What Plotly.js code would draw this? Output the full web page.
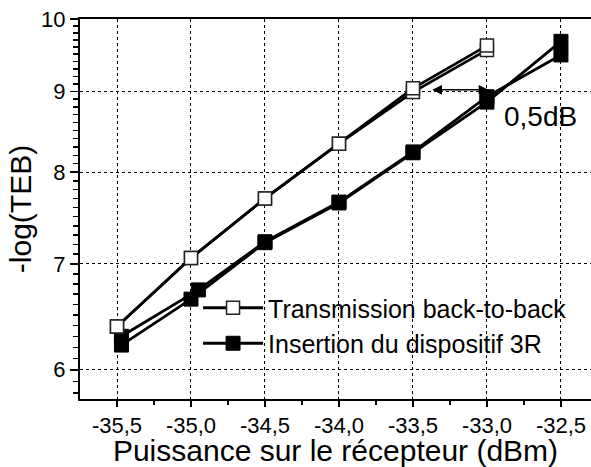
<!DOCTYPE html>
<html>
<head>
<meta charset="utf-8">
<script src="https://cdn.plot.ly/plotly-3.0.1.min.js"></script>
<style>html,body{margin:0;padding:0;background:#fff;}#chart{width:591px;height:467px;}</style>
</head>
<body>
<div id="chart"></div>
<script>
// Transmission back-to-back (two overlapping measurement runs)
const xOpenA = [-35.5, -35.0, -34.5, -34.0, -33.5, -33.0];
const yOpenA = [6.39, 7.06, 7.70, 8.34, 9.04, 9.62];
const xOpenB = [-35.5, -35.0, -34.5, -34.0, -33.5, -33.0];
const yOpenB = [6.39, 7.06, 7.70, 8.34, 8.99, 9.56];
// Insertion du dispositif 3R (two overlapping measurement runs)
const xFilledA = [-35.47, -35.0, -34.5, -34.0, -33.5, -33.0, -32.5];
const yFilledA = [6.22, 6.65, 7.22, 7.65, 8.23, 8.86, 9.68];
const xFilledB = [-35.47, -34.95, -34.5, -34.0, -33.5, -33.0, -32.5];
const yFilledB = [6.30, 6.74, 7.23, 7.66, 8.24, 8.93, 9.49];

const seriesNames = ['Transmission back-to-back', 'Insertion du dispositif 3R'];
const xTickVals = [-35.5, -35.0, -34.5, -34.0, -33.5, -33.0, -32.5];
const xTickText = ['-35,5', '-35,0', '-34,5', '-34,0', '-33,5', '-33,0', '-32,5'];
const yTickVals = [6, 7, 8, 9, 10];
const yTickText = ['6', '7', '8', '9', '10'];
const yMinorVals = [5.8, 5.9, 6.1, 6.2, 6.3, 6.4, 6.5, 6.6, 6.7, 6.8, 6.9,
  7.1, 7.2, 7.3, 7.4, 7.5, 7.6, 7.7, 7.8, 7.9, 8.1, 8.2, 8.3, 8.4, 8.5, 8.6, 8.7, 8.8, 8.9,
  9.1, 9.2, 9.3, 9.4, 9.5, 9.6, 9.7, 9.8, 9.9];
const xMinorVals = [-35.25, -34.75, -34.25, -33.75, -33.25, -32.75];
const gainLabel = '0,5dB';

const FONT = 'Liberation Sans, Arial, sans-serif';
const lineStyle = {color: '#000', width: 2.8};
const filledMarker = {symbol: 'square', size: 14, color: '#000', line: {color: '#000', width: 1}};
const openMarker = {symbol: 'square', size: 13, color: '#fff', line: {color: '#222', width: 1.5}};

const traces = [
  {x: xFilledA, y: yFilledA, mode: 'lines+markers', name: seriesNames[1], line: lineStyle, marker: filledMarker, legendrank: 2},
  {x: xFilledB, y: yFilledB, mode: 'lines+markers', name: seriesNames[1], line: lineStyle, marker: filledMarker, showlegend: false},
  {x: xOpenB, y: yOpenB, mode: 'lines+markers', name: seriesNames[0], line: lineStyle, marker: openMarker, showlegend: false},
  {x: xOpenA, y: yOpenA, mode: 'lines+markers', name: seriesNames[0], line: lineStyle, marker: openMarker, legendrank: 1}
];

const layout = {
  width: 591, height: 467,
  margin: {l: 80, r: 0, t: 19, b: 68, pad: 0},
  paper_bgcolor: '#fff', plot_bgcolor: '#fff',
  font: {family: FONT, color: '#000', size: 22},
  showlegend: true,
  legend: {
    x: 0.231, y: 0.30, xanchor: 'left', yanchor: 'top',
    bgcolor: 'rgba(0,0,0,0)', borderwidth: 0,
    font: {family: FONT, size: 25, color: '#000'},
    itemwidth: 60, tracegroupgap: 0
  },
  xaxis: {
    range: [-35.75, -32.297],
    tickmode: 'array', tickvals: xTickVals, ticktext: xTickText,
    ticks: 'outside', ticklen: 6, tickwidth: 1.5, tickcolor: '#000',
    ticklabelstandoff: 0,
    showline: true, linewidth: 2, linecolor: '#000', mirror: true,
    showgrid: true, gridcolor: '#000', gridwidth: 1, griddash: 'dot',
    zeroline: false,
    tickfont: {family: FONT, size: 22, color: '#000'},
    minor: {tickmode: 'array', tickvals: xMinorVals, ticks: 'outside', ticklen: 4, tickwidth: 1.5, tickcolor: '#000', showgrid: false},
    title: {text: 'Puissance sur le récepteur (dBm)', font: {family: FONT, size: 30, color: '#000'}, standoff: 8}
  },
  yaxis: {
    type: 'log',
    range: [Math.log10(5.75), 1],
    tickmode: 'array', tickvals: yTickVals, ticktext: yTickText,
    ticks: 'outside', ticklen: 8, tickwidth: 1.5, tickcolor: '#000',
    showline: true, linewidth: 2, linecolor: '#000', mirror: false,
    showgrid: true, gridcolor: '#000', gridwidth: 1, griddash: 'dot',
    zeroline: false,
    tickfont: {family: FONT, size: 22, color: '#000'},
    minor: {tickmode: 'array', tickvals: yMinorVals, ticks: 'outside', ticklen: 5, tickwidth: 1.5, tickcolor: '#000', showgrid: false},
    title: {text: '-log(TEB)', font: {family: FONT, size: 30, color: '#000'}, standoff: 1}
  },
  annotations: [
    {x: -32.99, y: Math.log10(9.02), ax: -33.38, ay: Math.log10(9.02), xref: 'x', yref: 'y', axref: 'x', ayref: 'y',
     text: '', showarrow: true, arrowside: 'end+start', arrowhead: 2, arrowsize: 1.3, arrowwidth: 1.5, arrowcolor: '#000',
     standoff: 0, startstandoff: 0},
    {x: -32.64, y: Math.log10(8.68), xref: 'x', yref: 'y', text: gainLabel, showarrow: false,
     font: {family: FONT, size: 28, color: '#000'}}
  ]
};

Plotly.newPlot('chart', traces, layout, {displayModeBar: false, staticPlot: true});
</script>
</body>
</html>
